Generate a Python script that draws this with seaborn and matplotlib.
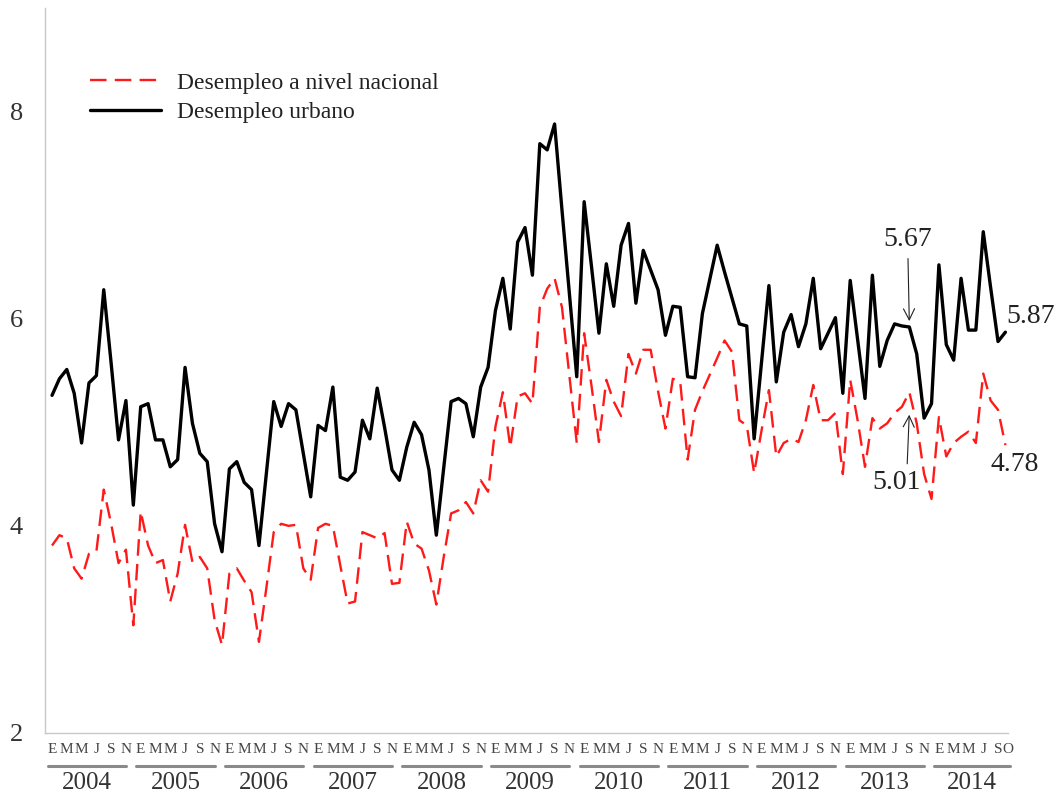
import matplotlib
matplotlib.use('Agg')
import matplotlib.pyplot as plt
import matplotlib.transforms as mtransforms
import numpy as np
import pandas as pd
import seaborn as sns

# años y letras de los meses en el eje x
anios = [2004, 2005, 2006, 2007, 2008, 2009, 2010, 2011, 2012, 2013, 2014]
meses_letra = ['E', 'M', 'M', 'J', 'S', 'N']
meses_pos = [0, 2, 4, 6, 8, 10]
meses_letra_ult = ['E', 'M', 'M', 'J', 'S', 'O']
meses_pos_ult = [0, 2, 4, 6, 8, 9]

# desempleo urbano (enero 2004 - octubre 2014)
urbano = [
    5.26, 5.42, 5.51, 5.28, 4.80, 5.38, 5.45, 6.28, 5.57, 4.83, 5.21, 4.20,
    5.15, 5.18, 4.83, 4.83, 4.57, 4.64, 5.53, 4.99, 4.70, 4.62, 4.02, 3.75,
    4.55, 4.62, 4.42, 4.35, 3.81, 4.51, 5.20, 4.96, 5.18, 5.12, 4.70, 4.28,
    4.97, 4.92, 5.34, 4.47, 4.44, 4.52, 5.02, 4.84, 5.33, 4.95, 4.54, 4.44,
    4.76, 5.00, 4.88, 4.54, 3.91, 4.56, 5.20, 5.23, 5.18, 4.86, 5.34, 5.53,
    6.08, 6.39, 5.90, 6.74, 6.88, 6.42, 7.69, 7.63, 7.88, 7.05, 6.25, 5.44,
    7.13, 6.50, 5.86, 6.53, 6.12, 6.71, 6.92, 6.15, 6.66, 6.47, 6.28, 5.84,
    6.12, 6.11, 5.44, 5.43, 6.05, 6.38, 6.71, 6.45, 6.20, 5.95, 5.93, 4.84,
    5.58, 6.32, 5.39, 5.87, 6.04, 5.73, 5.95, 6.39, 5.71, 5.86, 6.01, 5.28,
    6.37, 5.80, 5.23, 6.42, 5.54, 5.79, 5.95, 5.93, 5.92, 5.66, 5.04, 5.18,
    6.52, 5.75, 5.60, 6.39, 5.89, 5.89, 6.84, 6.30, 5.78, 5.87,
]

# desempleo a nivel nacional
nacional = [
    3.81, 3.91, 3.88, 3.59, 3.49, 3.73, 3.75, 4.35, 4.02, 3.64, 3.77, 3.04,
    4.14, 3.81, 3.64, 3.67, 3.27, 3.54, 4.01, 3.65, 3.70, 3.59, 3.09, 2.85,
    3.54, 3.59, 3.47, 3.36, 2.88, 3.40, 3.94, 4.02, 4.00, 4.01, 3.59, 3.48,
    3.98, 4.02, 4.00, 3.62, 3.25, 3.27, 3.94, 3.91, 3.88, 3.93, 3.44, 3.45,
    4.04, 3.83, 3.78, 3.57, 3.24, 3.70, 4.12, 4.15, 4.23, 4.12, 4.44, 4.33,
    4.96, 5.29, 4.76, 5.25, 5.28, 5.18, 6.11, 6.29, 6.39, 6.11, 5.45, 4.80,
    5.86, 5.35, 4.81, 5.41, 5.20, 5.06, 5.66, 5.47, 5.70, 5.70, 5.30, 4.94,
    5.42, 5.39, 4.64, 5.12, 5.30, 5.46, 5.62, 5.79, 5.68, 5.02, 4.97, 4.51,
    4.92, 5.31, 4.67, 4.80, 4.84, 4.81, 5.02, 5.36, 5.02, 5.02, 5.09, 4.50,
    5.41, 5.02, 4.57, 5.04, 4.94, 4.99, 5.09, 5.15, 5.29, 4.99, 4.50, 4.26,
    5.05, 4.67, 4.80, 4.86, 4.91, 4.80, 5.47, 5.21, 5.12, 4.78,
]

df = pd.DataFrame({'mes': np.arange(len(urbano)), 'urbano': urbano, 'nacional': nacional})

sns.set_style('white')
plt.rcParams['font.family'] = ['Liberation Serif', 'DejaVu Serif']

fig = plt.figure(figsize=(10.6, 7.96), dpi=100)
ax = fig.add_axes([0.04245, 0.07915, 0.9085, 0.9108])

sns.lineplot(data=df, x='mes', y='nacional', color='#ff1a1a', lw=1.7,
             linestyle=(0, (7, 3.5)), label='Desempleo a nivel nacional', ax=ax, clip_on=False)
sns.lineplot(data=df, x='mes', y='urbano', color='black', lw=2.4,
             label='Desempleo urbano', ax=ax, clip_on=False)

ax.set_xlabel('')
ax.set_ylabel('')

# ticks de meses
pos, lab = [], []
for k, a in enumerate(anios):
    if a == anios[-1]:
        pp, ll = meses_pos_ult, meses_letra_ult
    else:
        pp, ll = meses_pos, meses_letra
    pos += [12 * k + p for p in pp]
    lab += ll
# la "O" final se separa un poco de la "S" para que no se monten
pos[-1] += 0.3
ax.set_xticks(pos)
ax.set_xticklabels(lab)
ax.tick_params(axis='x', length=0, pad=7, labelsize=11, labelcolor='#444444')

ax.set_yticks([2, 4, 6, 8])
ax.tick_params(axis='y', length=6, width=0.9, color='#bbbbbb', pad=10,
               labelsize=19, labelcolor='#333333')

# limites despues de los ticks (set_xticks puede ampliarlos)
ax.set_xlim(-0.95, 129.35)
ax.set_ylim(2, 9)

for s in ['top', 'right']:
    ax.spines[s].set_visible(False)
for s in ['left', 'bottom']:
    ax.spines[s].set_color('#c8c8c8')
    ax.spines[s].set_linewidth(1)

# subrayado y etiqueta de cada año
trans = mtransforms.blended_transform_factory(ax.transData, ax.transAxes)
n = len(urbano)
for k, a in enumerate(anios):
    ini = 12 * k - 0.6
    fin = min(12 * k + 10, n - 0.4)
    ax.plot([ini, fin], [-0.0455, -0.0455], transform=trans, clip_on=False,
            color='#8a8a8a', lw=2.2)
    ax.text((ini + fin) / 2, -0.069, str(a), transform=trans, ha='center', va='center',
            fontsize=18, color='#333333')

# anotaciones
ax.annotate('5.67', xy=(116, 5.95), xytext=(115.8, 6.76), ha='center', va='center',
            fontsize=20, color='#222222',
            arrowprops=dict(arrowstyle='->', lw=0.8, color='#222222', relpos=(0.5, 0)))
ax.annotate('5.01', xy=(116, 5.1), xytext=(114.3, 4.42), ha='center', va='center',
            fontsize=20, color='#222222',
            arrowprops=dict(arrowstyle='->', lw=0.8, color='#222222', relpos=(0.71, 1)))
ax.text(129.1, 6.02, '5.87', ha='left', va='center', fontsize=20, color='#222222')
ax.text(130.2, 4.59, '4.78', ha='center', va='center', fontsize=20, color='#222222')

ax.legend(loc='upper left', bbox_to_anchor=(90 / 1060, 1 - 72 / 796),
          bbox_transform=fig.transFigure, frameon=False, fontsize=17,
          handlelength=3.0, handletextpad=0.7, labelspacing=0.35,
          borderpad=0, borderaxespad=0, labelcolor='#222222')

plt.savefig('out.png', dpi=100)
